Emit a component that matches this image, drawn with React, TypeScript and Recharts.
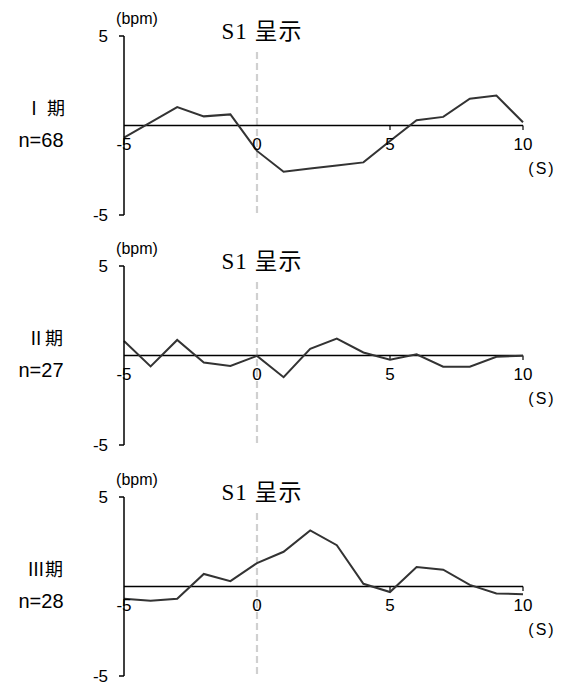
import { LineChart, Line, XAxis, YAxis, ReferenceLine, ReferenceDot } from 'recharts';

// seconds relative to S1 onset
const seconds = [-5, -4, -3, -2, -1, 0, 1, 2, 3, 4, 5, 6, 7, 8, 9, 10];

// heart-rate change (bpm) per period
const period1 = [-0.68, 0.18, 1.03, 0.51, 0.62, -1.42, -2.58, -2.4, -2.23, -2.06, -0.87, 0.29, 0.48, 1.5, 1.67, 0.18];
const period2 = [0.81, -0.61, 0.87, -0.39, -0.58, -0.02, -1.21, 0.37, 0.95, 0.17, -0.24, 0.07, -0.63, -0.63, -0.07, -0.02];
const period3 = [-0.68, -0.8, -0.68, 0.7, 0.3, 1.31, 1.94, 3.13, 2.31, 0.15, -0.31, 1.09, 0.94, 0.09, -0.39, -0.43];

const periodNames = ['Ⅰ 期', 'Ⅱ期', 'Ⅲ期'];
const counts = ['n=68', 'n=27', 'n=28'];

const xTicks = [-5, 0, 5, 10];
const xTickMarks = [5, 10];
const yTicks = [-5, 5];

const sans = '"Liberation Sans", Arial, "Noto Sans CJK JP", sans-serif';
const serif = '"Liberation Serif", "DejaVu Serif", "Noto Sans CJK JP", serif';

function Panel({ values, name, count, top }: { values: number[]; name: string; count: string; top: number }) {
  const data = seconds.map((x, i) => ({ x, v: values[i] }));
  return (
    <div style={{ position: 'absolute', left: 0, top, width: 561, height: 230 }}>
      <div style={{ position: 'absolute', left: 0, width: 90, top: 94, textAlign: 'center', fontFamily: '"Noto Sans CJK JP", sans-serif', fontSize: 18, lineHeight: '26px' }}>{name}</div>
      <div style={{ position: 'absolute', left: 0, width: 82, top: 127, textAlign: 'center', fontFamily: sans, fontSize: 20, lineHeight: '26px' }}>{count}</div>
      <LineChart width={561} height={230} data={data} margin={{ top: 36, right: 38, bottom: 15, left: 123 }} style={{ position: 'absolute', left: 0, top: 0 }}>
        <XAxis dataKey="x" type="number" domain={[-5, 10]} hide />
        <YAxis
          type="number"
          domain={[-5, 5]}
          ticks={yTicks}
          width={1}
          interval={0}
          tickSize={5}
          tickMargin={11}
          axisLine={{ stroke: '#000', strokeWidth: 1.5 }}
          tickLine={{ stroke: '#000', strokeWidth: 1.5 }}
          tick={{ fill: '#000', fontSize: 17, fontFamily: sans, dy: 0 }}
        />
        <ReferenceLine
          segment={[{ x: 0, y: 4.1 }, { x: 0, y: -5 }]}
          stroke="#d0d0d0"
          strokeWidth={2.2}
          strokeDasharray="7 4"
          label={{ value: 'S1 呈示', position: 'top', offset: 13, dx: 5, fill: '#000', fontSize: 23, fontFamily: serif, letterSpacing: 1 }}
        />
        <ReferenceLine y={0} stroke="#000" strokeWidth={1.3} />
        {xTickMarks.map(t => (
          <ReferenceLine key={t} segment={[{ x: t, y: 0 }, { x: t, y: -0.25 }]} stroke="#000" strokeWidth={1.2} />
        ))}
        {xTicks.map(t => (
          <ReferenceDot key={t} x={t} y={0} r={0} fill="none" stroke="none"
            label={{ value: String(t), position: 'bottom', offset: 12, fill: '#000', fontSize: 17, fontFamily: sans }} />
        ))}
        <ReferenceDot x={10} y={0} r={0} fill="none" stroke="none"
          label={{ value: '(S)', position: 'bottom', offset: 37, dx: 19, fill: '#000', fontSize: 16, fontFamily: sans, letterSpacing: 2 }} />
        <ReferenceDot x={-5} y={5} r={0} fill="none" stroke="none"
          label={{ value: '(bpm)', position: 'top', offset: 12, dx: 13, fill: '#000', fontSize: 16, fontFamily: sans }} />
        <Line type="linear" dataKey="v" stroke="#333" strokeWidth={2} dot={false} isAnimationActive={false} />
      </LineChart>
    </div>
  );
}

export default function App() {
  const series = [period1, period2, period3];
  const tops = [0, 230, 461];
  return (
    <div style={{ position: 'absolute', left: 0, top: 0, width: 561, height: 686, background: '#fff' }}>
      {series.map((s, i) => (
        <Panel key={i} values={s} name={periodNames[i]} count={counts[i]} top={tops[i]} />
      ))}
    </div>
  );
}
